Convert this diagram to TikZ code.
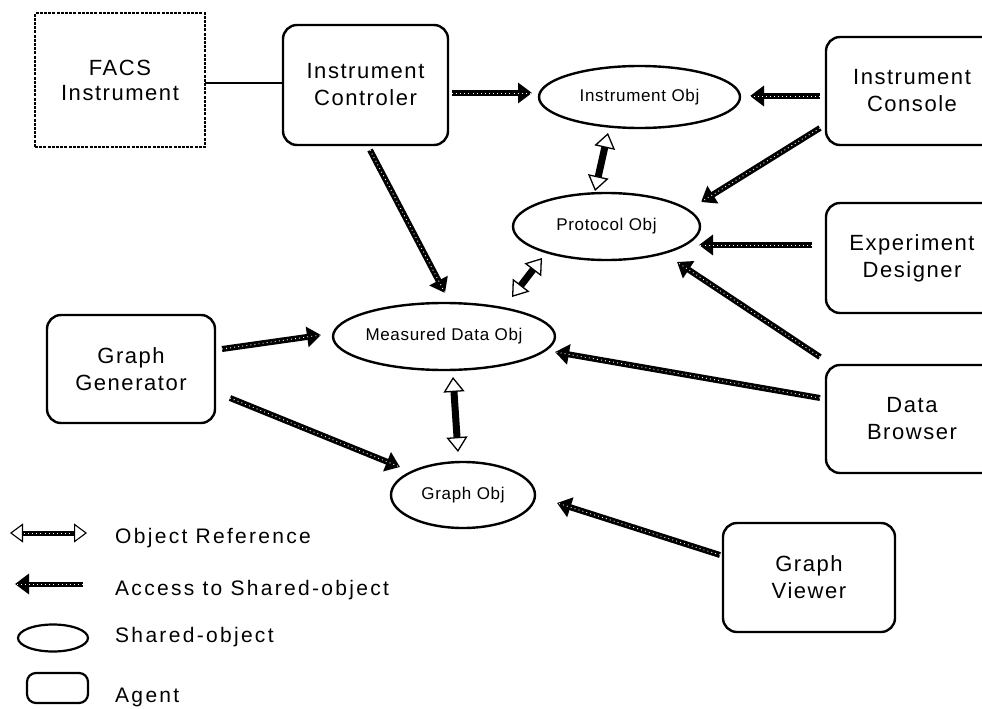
\documentclass[tikz,border=0pt]{standalone}
\usepackage{fontspec}
\setmainfont{Liberation Sans}
\newfontfamily\boxfont[LetterSpace=7]{Liberation Sans}
\newfontfamily\objfont[LetterSpace=4]{Liberation Sans}
\newfontfamily\legfont[LetterSpace=11]{Liberation Sans}
\usetikzlibrary{arrows.meta,shapes.geometric,calc}

\tikzset{
  agent/.style={draw, line width=2.4pt, rounded corners=14pt, inner sep=0pt,
    outer sep=0pt, align=center, font=\boxfont\fontsize{22}{27}\selectfont},
  device/.style={draw, line width=2pt, dash pattern=on 3pt off 1.2pt,
    inner sep=0pt, outer sep=0pt, align=center,
    font=\boxfont\fontsize{22}{25}\selectfont},
  shobj/.style={draw, ellipse, line width=2.4pt, inner sep=0pt, outer sep=0pt,
    font=\objfont\fontsize{17}{20}\selectfont},
  stipple/.style={postaction={draw=white, line width=0.9pt, dash pattern=on 0.9pt off 3.2pt, -}},
  acc/.style={line width=6pt, -{Triangle[length=14pt,width=20pt]}, stipple},
  oref/.style={line width=7pt,
    {Triangle[length=15pt,width=21pt,fill=white,line width=1.3pt]}-{Triangle[length=15pt,width=21pt,fill=white,line width=1.3pt]}},
  legtext/.style={anchor=west, inner sep=0pt, font=\legfont\fontsize{21}{24}\selectfont}
}

\begin{document}
\begin{tikzpicture}[x=1pt, y=-1pt]
  \useasboundingbox (0,0) rectangle (982,709);
  \clip (0,0) rectangle (982,709);

  % agents, the instrument and the shared objects
  \node[device, minimum width=170pt, minimum height=134pt] (facs) at (120,80) {FACS\\Instrument};
  \node[agent, minimum width=165pt, minimum height=120pt] (ctrl) at (365.5,85) {Instrument\\Controler};
  \node[agent, minimum width=172pt, minimum height=108pt] (cons) at (912,91) {Instrument\\Console};
  \node[agent, minimum width=172pt, minimum height=110pt] (dsgn) at (912,258) {Experiment\\Designer};
  \node[agent, minimum width=168pt, minimum height=108pt] (gen) at (131,369) {Graph\\Generator};
  \node[agent, minimum width=172pt, minimum height=108pt] (brow) at (912,419) {Data\\Browser};
  \node[agent, minimum width=172pt, minimum height=109pt] (view) at (809,577.5) {Graph\\Viewer};

  \node[shobj, minimum width=201pt, minimum height=62pt] (iobj) at (639.5,97) {Instrument Obj};
  \node[shobj, minimum width=187pt, minimum height=67pt] (pobj) at (606.5,226.5) {Protocol Obj};
  \node[shobj, minimum width=208pt, minimum height=67pt] (mobj) at (444,336.5) {Measured Data Obj};
  \node[shobj, minimum width=144pt, minimum height=66pt] (gobj) at (463,495) {Graph Obj};

  % wire between the instrument and its controller
  \draw[line width=1.5pt] ([shift={(0,3)}]facs.east) -- ([shift={(0,-2)}]ctrl.west);

  % access to shared objects
  \draw[acc] ([shift={(4,8)}]ctrl.east) -- ([shift={(-7,-4)}]iobj.west);
  \draw[acc] ([shift={(-6,5)}]cons.west) -- ([shift={(10,-1)}]iobj.east);
  \draw[acc] ([shift={(-6,37)}]cons.west) -- ([shift={(94.5,-24.5)}]pobj.center);
  \draw[acc] ([shift={(-14,-13)}]dsgn.west) -- ([shift={(92.5,18.5)}]pobj.center);
  \draw[acc] ([shift={(-6,-62)}]brow.west) -- ([shift={(70.5,35.5)}]pobj.center);
  \draw[acc] ([shift={(-6,-21)}]brow.west) -- ([shift={(111,15.5)}]mobj.center);
  \draw[acc] ([shift={(4.5,5)}]ctrl.south) -- ([shift={(1,-43.5)}]mobj.center);
  \draw[acc] ([shift={(7,-20)}]gen.east) -- ([shift={(-12,-1.5)}]mobj.west);
  \draw[acc] ([shift={(15,29)}]gen.east) -- ([shift={(-63,-28)}]gobj.center);
  \draw[acc] ([shift={(-3,-22.5)}]view.west) -- ([shift={(94,8)}]gobj.center);

  % object references
  \draw[oref] ([shift={(-31.5,36)}]iobj.center) -- ([shift={(-11.5,-35.5)}]pobj.center);
  \draw[oref] ([shift={(-64.5,31.5)}]pobj.center) -- ([shift={(68,-39.5)}]mobj.center);
  \draw[oref] ([shift={(9,40.5)}]mobj.center) -- ([shift={(-5,-43)}]gobj.center);

  % legend
  \coordinate (refA) at (10,533);
  \coordinate (refB) at (87,533);
  \draw[line width=5pt,
    {Triangle[length=13pt,width=19pt,fill=white,line width=1.1pt]}-{Triangle[length=13pt,width=19pt,fill=white,line width=1.1pt]}]
    (refA) -- (refB);
  \draw[draw=white, line width=0.9pt, dash pattern=on 0.9pt off 3.2pt,
    shorten <=14pt, shorten >=14pt] (refA) -- (refB);
  \node[legtext] (lref) at (115,538) {Object Reference};

  \coordinate (accA) at (83,584);
  \coordinate (accB) at (15,584);
  \draw[acc, line width=5pt] (accA) -- (accB);
  \node[legtext] (lacc) at (115,590) {Access to Shared-object};

  \node[draw, ellipse, line width=2.2pt, minimum width=70pt, minimum height=27pt, inner sep=0pt] (lell) at (53,638) {};
  \node[legtext] (lsho) at (115,637) {Shared-object};

  \node[draw, line width=2.2pt, rounded corners=9pt, minimum width=61pt, minimum height=30pt, inner sep=0pt] (lbox) at (57.5,688) {};
  \node[legtext] (lagt) at (115,697) {Agent};
\end{tikzpicture}
\end{document}
